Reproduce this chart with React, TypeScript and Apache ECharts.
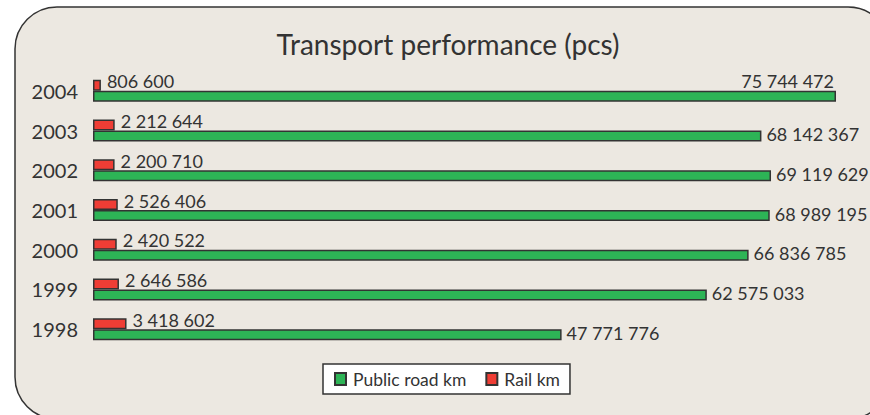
import React, { useEffect, useRef } from "react";
import * as echarts from "echarts";

const years = ["1998", "1999", "2000", "2001", "2002", "2003", "2004"];
const roadKm = [47771776, 62575033, 66836785, 68989195, 69119629, 68142367, 75744472];
const railKm = [3418602, 2646586, 2420522, 2526406, 2200710, 2212644, 806600];
const titleText = "Transport performance (pcs)";
const seriesNames = ["Public road km", "Rail km"];

const FONT = "Lato, 'Open Sans', sans-serif";
const fmt = (v: number) => String(v).replace(/\B(?=(\d{3})+(?!\d))/g, " ");

export default function App() {
  const ref = useRef<HTMLDivElement>(null);
  useEffect(() => {
    if (!ref.current) return;
    const chart = echarts.init(ref.current, undefined, { renderer: "svg" });
    const lastIdx = roadKm.length - 1;
    chart.setOption({
      animation: false,
      textStyle: { fontFamily: FONT, color: "#333" },
      graphic: [
        {
          type: "rect",
          z: -10,
          shape: { x: 15, y: 7, width: 875, height: 412, r: 42 },
          style: { fill: "#ece8e1", stroke: "#333", lineWidth: 1.5 },
        },
        {
          type: "text",
          x: 448,
          y: 44,
          style: {
            text: titleText,
            fontFamily: FONT,
            fontSize: 28,
            fill: "#333",
            align: "center",
            verticalAlign: "middle",
          },
        },
      ],
      legend: {
        left: 323,
        top: 364,
        backgroundColor: "#fff",
        borderColor: "#333",
        borderWidth: 1.5,
        borderRadius: 0,
        padding: [6, 10, 6, 11],
        itemWidth: 11,
        itemHeight: 12,
        itemGap: 19,
        icon: "rect",
        textStyle: { fontFamily: FONT, fontSize: 17.5, color: "#333", padding: [0, 0, 0, 2] },
        data: seriesNames,
      },
      grid: { left: 93, right: 34, top: 71, bottom: 66, containLabel: false },
      xAxis: {
        type: "value",
        min: 0,
        max: "dataMax",
        show: false,
      },
      yAxis: {
        type: "category",
        data: years,
        axisLine: { show: false },
        axisTick: { show: false },
        axisLabel: { fontFamily: FONT, fontSize: 20, color: "#333", margin: 15 },
      },
      series: [
        {
          name: seriesNames[1],
          type: "bar",
          barWidth: 11,
          barGap: "0%",
          itemStyle: { color: "#ef3d35", borderColor: "#333", borderWidth: 1.5 },
          label: {
            show: true,
            position: "right",
            distance: 6,
            fontFamily: FONT,
            fontSize: 18,
            color: "#333",
            offset: [0, -4],
            formatter: (p: any) => fmt(p.value),
          },
          data: railKm,
        },
        {
          name: seriesNames[0],
          type: "bar",
          barWidth: 11,
          barGap: "0%",
          itemStyle: { color: "#2db456", borderColor: "#333", borderWidth: 1.5 },
          label: {
            show: true,
            position: "right",
            distance: 5,
            fontFamily: FONT,
            fontSize: 18,
            color: "#333",
            offset: [0, -2],
            formatter: (p: any) => fmt(p.value),
          },
          data: roadKm.map((v, i) =>
            i === lastIdx
              ? {
                  value: v,
                  label: {
                    position: ["100%", 0],
                    align: "right",
                    verticalAlign: "bottom",
                    offset: [-2, -1],
                  },
                }
              : v
          ),
        },
      ],
    });
    return () => chart.dispose();
  }, []);
  return (
    <div
      ref={ref}
      style={{ position: "absolute", left: 0, top: 0, width: 870, height: 415, background: "#fff" }}
    />
  );
}
